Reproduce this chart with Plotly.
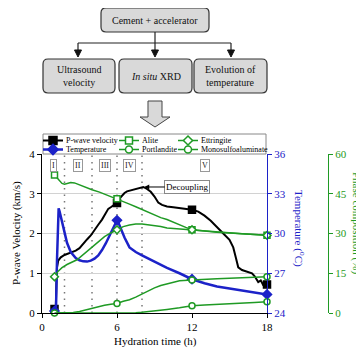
import plotly.graph_objects as go

# ---------------- data ----------------
vel_time = [1.0, 1.1, 1.15, 1.2, 1.3, 1.5, 1.8, 2.1, 2.4, 2.7, 3.0, 3.3, 3.6, 3.9, 4.2, 4.5, 4.8, 5.1, 5.3, 5.5,
            5.7, 5.85, 6.0, 6.2, 6.4, 6.6, 6.8, 7.0, 7.3, 7.6, 7.9, 8.1, 8.4, 8.7, 9.0, 9.3, 9.6, 10.0, 10.5, 11.0,
            11.5, 12.0, 12.5, 13.0, 13.5, 14.0, 14.5, 15.0, 15.3, 15.5, 15.7, 16.0, 16.5, 16.8, 17.0, 17.3, 17.5,
            17.7, 17.85, 18.0]
vel_kms = [0.10, 0.10, 0.70, 1.15, 1.32, 1.40, 1.46, 1.49, 1.53, 1.57, 1.63, 1.75, 1.85, 1.95, 2.10, 2.22, 2.35,
           2.50, 2.62, 2.66, 2.70, 2.72, 2.77, 2.88, 2.96, 3.02, 3.06, 3.08, 3.11, 3.12, 3.15, 3.17, 3.12, 3.05,
           2.93, 2.78, 2.72, 2.68, 2.66, 2.64, 2.62, 2.60, 2.55, 2.45, 2.32, 2.17, 2.00, 1.84, 1.65, 1.40, 1.15,
           1.08, 1.03, 1.00, 0.93, 0.78, 0.82, 0.70, 0.68, 0.72]

temp_time = [1.0, 1.12, 1.2, 1.27, 1.33, 1.4, 1.5, 1.7, 2.0, 2.3, 2.7, 3.0, 3.3, 3.6, 3.9, 4.2, 4.5, 4.8, 5.1,
             5.4, 5.7, 5.9, 6.0, 6.1, 6.3, 6.6, 7.0, 7.5, 8.0, 8.5, 9.0, 9.5, 10.0, 11.0, 12.0, 13.0, 14.0, 15.0,
             16.0, 17.0, 18.0]
temp_c = [24.15, 24.3, 28.0, 31.0, 31.9, 31.7, 31.2, 30.5, 29.3, 28.6, 28.15, 27.98, 27.9, 27.88, 27.95, 28.1,
          28.35, 28.75, 29.25, 29.85, 30.45, 30.85, 31.0, 30.85, 30.35, 29.7, 28.95, 28.6, 28.35, 28.1, 27.9,
          27.65, 27.4, 27.0, 26.55, 26.25, 26.0, 25.85, 25.7, 25.55, 25.4]

alite_time = [1.0, 1.2, 1.4, 1.6, 1.8, 2.0, 2.3, 2.6, 2.9, 3.4, 4.0, 4.6, 5.0, 5.5, 6.0, 6.5, 7.0, 7.5, 8.0, 8.5,
              9.0, 9.5, 10.0, 10.5, 11.0, 11.5, 12.0, 13.0, 14.0, 15.0, 16.0, 17.0, 18.0]
alite_pct = [52.1, 51.0, 49.7, 48.9, 48.6, 48.8, 49.2, 49.1, 48.5, 47.4, 46.5, 45.6, 44.9, 44.0, 43.1, 42.0,
             41.1, 40.1, 39.0, 38.0, 37.1, 36.0, 35.3, 34.2, 33.3, 32.3, 31.4, 30.9, 30.5, 30.2, 29.9, 29.6, 29.3]

port_time = [1.0, 2.0, 2.5, 3.0, 3.5, 4.0, 4.5, 5.0, 5.5, 6.0, 6.5, 7.0, 7.5, 8.0, 8.5, 9.0, 9.5, 10.0, 10.5,
             11.0, 12.0, 13.0, 14.0, 15.0, 16.0, 17.0, 18.0]
port_pct = [0.0, 0.0, 0.2, 0.6, 1.2, 1.8, 2.3, 2.9, 3.3, 3.6, 4.4, 5.0, 6.0, 7.2, 8.4, 9.5, 10.4, 11.1, 11.7,
            12.2, 12.5, 12.8, 12.9, 13.1, 13.2, 13.5, 13.7]

ettr_time = [1.0, 1.3, 1.6, 2.0, 2.8, 3.5, 4.0, 4.5, 5.0, 5.5, 6.0, 6.5, 7.0, 7.5, 8.0, 8.5, 9.0, 9.5, 10.0,
             11.0, 12.0, 13.0, 14.0, 15.0, 16.0, 17.0, 18.0]
ettr_pct = [13.7, 15.8, 17.1, 18.3, 20.1, 22.8, 24.9, 26.7, 28.8, 30.2, 31.4, 32.6, 33.2, 33.6, 33.6, 33.3,
            33.0, 32.6, 32.1, 31.7, 31.4, 30.9, 30.5, 30.2, 29.9, 29.6, 29.3]

mono_time = [1.0, 7.0, 7.5, 8.0, 9.0, 10.0, 11.0, 12.0, 13.0, 14.0, 15.0, 16.0, 17.0, 18.0]
mono_pct = [0.0, 0.0, 0.1, 0.3, 0.75, 1.35, 1.95, 2.7, 3.0, 3.3, 3.5, 3.75, 4.0, 4.2]

marker_times = [1, 6, 12, 18]
mono_marker_times = [12, 18]
stage_bounds = [0, 1.8, 4, 6, 8, 18]
stage_labels = ["I", "II", "III", "IV", "V"]
x_ticks = [0, 6, 12, 18]
flow_top = "Cement + accelerator"
flow_boxes = ["Ultrasound<br>velocity", "<i>In situ</i> XRD", "Evolution of<br>temperature"]
decoupling_label = "Decoupling"

# ---------------- styling / geometry ----------------
FONT = "Liberation Serif"
BLACK = "#000000"
BLUE = "#1c22c8"
GREEN = "#1f9a24"
W, H = 364, 348
OFF = 8                      # page body margin: the figure is drawn 8px right/down in the window
# plot area in window pixels: x 42..267, y 154..313
L, T = 42 - OFF, 154 - OFF
B = H - (313 - OFF)
R = 12
PW, PH = W - L - R, H - T - B


def px(x):
    """window x pixel -> paper x"""
    return (x - OFF - L) / PW


def py(y):
    """window y pixel -> paper y"""
    return (H - B - (y - OFF)) / PH


def P(x, y):
    return f"{px(x):.5f},{py(y):.5f}"


series = [
    dict(name="P-wave velocity", t=vel_time, v=vel_kms, ax="y", color=BLACK, lw=2, sym="square",
         fill=BLACK, size=7, keys=marker_times),
    dict(name="Temperature", t=temp_time, v=temp_c, ax="y2", color=BLUE, lw=2.5, sym="diamond",
         fill=BLUE, size=7, keys=marker_times),
    dict(name="Alite", t=alite_time, v=alite_pct, ax="y3", color=GREEN, lw=1.5, sym="square",
         fill="white", size=6, keys=marker_times),
    dict(name="Portlandite", t=port_time, v=port_pct, ax="y3", color=GREEN, lw=1.5, sym="circle",
         fill="white", size=6, keys=marker_times),
    dict(name="Ettringite", t=ettr_time, v=ettr_pct, ax="y3", color=GREEN, lw=1.5, sym="diamond",
         fill="white", size=6, keys=marker_times),
    dict(name="Monosulfoaluminate", t=mono_time, v=mono_pct, ax="y3", color=GREEN, lw=1.5, sym="circle",
         fill="white", size=6, keys=mono_marker_times),
]

fig = go.Figure()
for s in series:
    fig.add_trace(go.Scatter(x=s["t"], y=s["v"], yaxis=s["ax"], mode="lines", name=s["name"],
                             legendgroup=s["name"], line=dict(color=s["color"], width=s["lw"]),
                             showlegend=False))
    kx = [t for t in s["t"] if t in s["keys"]]
    ky = [v for t, v in zip(s["t"], s["v"]) if t in s["keys"]]
    fig.add_trace(go.Scatter(x=kx, y=ky, yaxis=s["ax"], mode="markers", name=s["name"],
                             legendgroup=s["name"], showlegend=False, cliponaxis=False,
                             marker=dict(symbol=s["sym"], size=s["size"], color=s["fill"],
                                         line=dict(color=s["color"], width=1.5))))

shapes = []
annotations = []


def note(x, y, text, size=10, color="#111", **kw):
    d = dict(xref="paper", yref="paper", x=px(x), y=py(y), text=text, showarrow=False,
             xanchor="center", yanchor="middle", font=dict(family=FONT, size=size, color=color))
    d.update(kw)
    annotations.append(d)


# stage boundaries (dotted)
for b in stage_bounds[1:-1]:
    shapes.append(dict(type="line", xref="x", yref="paper", x0=b, x1=b, y0=0, y1=1,
                       line=dict(color="#777777", width=1.5, dash="1.5px,5px"), layer="below"))
# stage labels
for i, lab in enumerate(stage_labels):
    mid = (stage_bounds[i] + stage_bounds[i + 1]) / 2
    annotations.append(dict(xref="x", yref="paper", x=mid, y=py(165), text=lab, showarrow=False,
                            xanchor="center", yanchor="middle",
                            font=dict(family=FONT, size=8, color="#222"), bgcolor="white",
                            bordercolor="#999999", borderwidth=1, borderpad=1))

# decoupling callout
peak_i = vel_kms.index(max(vel_kms))
annotations.append(dict(xref="x", yref="y", x=vel_time[peak_i], y=vel_kms[peak_i], text=decoupling_label,
                        showarrow=True, ax=44, ay=0, arrowhead=2, arrowsize=1, arrowwidth=1,
                        arrowcolor="black", standoff=1, font=dict(family=FONT, size=9, color="black"),
                        bgcolor="white", bordercolor="#888888", borderwidth=1, borderpad=1))

# custom legend (box + samples built from the same series style table)
shapes.append(dict(type="rect", xref="paper", yref="paper", x0=px(43), x1=px(266), y0=py(154), y1=py(134),
                   line=dict(color="#888888", width=1), fillcolor="white", layer="above"))
leg_cols = [43, 119, 178]
leg_rows = [140.5, 149.5]
leg_order = [[0, 1], [2, 3], [4, 5]]
for ci, col in enumerate(leg_order):
    for ri, si in enumerate(col):
        s = series[si]
        x0 = leg_cols[ci]
        y = leg_rows[ri]
        cx = x0 + 10
        shapes.append(dict(type="line", xref="paper", yref="paper", x0=px(x0), x1=px(x0 + 20),
                           y0=py(y), y1=py(y), line=dict(color=s["color"], width=s["lw"]), layer="above"))
        h = s["size"] / 2 + 0.5
        if s["sym"] == "square":
            shapes.append(dict(type="rect", xref="paper", yref="paper", x0=px(cx - h), x1=px(cx + h),
                               y0=py(y + h), y1=py(y - h), fillcolor=s["fill"],
                               line=dict(color=s["color"], width=1.5), layer="above"))
        elif s["sym"] == "circle":
            shapes.append(dict(type="circle", xref="paper", yref="paper", x0=px(cx - h), x1=px(cx + h),
                               y0=py(y + h), y1=py(y - h), fillcolor=s["fill"],
                               line=dict(color=s["color"], width=1.5), layer="above"))
        else:
            d = h * 1.3
            path = f"M{P(cx, y - d)} L{P(cx + d, y)} L{P(cx, y + d)} L{P(cx - d, y)} Z"
            shapes.append(dict(type="path", xref="paper", yref="paper", path=path, fillcolor=s["fill"],
                               line=dict(color=s["color"], width=1.5), layer="above"))
        note(x0 + 21, y, s["name"], size=8, color="black", xanchor="left")


# flowchart
def rrect(x0, y0, x1, y1, r):
    return (f"M{P(x0 + r, y0)} L{P(x1 - r, y0)} Q{P(x1, y0)} {P(x1, y0 + r)} L{P(x1, y1 - r)} "
            f"Q{P(x1, y1)} {P(x1 - r, y1)} L{P(x0 + r, y1)} Q{P(x0, y1)} {P(x0, y1 - r)} "
            f"L{P(x0, y0 + r)} Q{P(x0, y0)} {P(x0 + r, y0)} Z")


BOX_FILL = "#d9d9d9"
BOX_LINE = "#333333"
top_box = (101, 8, 209, 32)
row_boxes = [(43, 59, 115, 93), (119, 59, 192, 93), (194, 59, 267, 93)]
for bx in [top_box] + row_boxes:
    shapes.append(dict(type="path", xref="paper", yref="paper", path=rrect(*bx, 5),
                       fillcolor=BOX_FILL, line=dict(color=BOX_LINE, width=1.2), layer="below"))
note(155, 20, flow_top)
for bx, txt in zip(row_boxes, flow_boxes):
    note((bx[0] + bx[2]) / 2, 76, txt)
# connectors
conn = dict(color="#222222", width=1.2)
shapes.append(dict(type="line", xref="paper", yref="paper", x0=px(155), x1=px(155), y0=py(32), y1=py(43),
                   line=conn))
shapes.append(dict(type="line", xref="paper", yref="paper", x0=px(78), x1=px(231), y0=py(43), y1=py(43),
                   line=conn))
for ax_ in (78, 155, 231):
    shapes.append(dict(type="line", xref="paper", yref="paper", x0=px(ax_), x1=px(ax_), y0=py(43),
                       y1=py(51), line=conn))
    shapes.append(dict(type="path", xref="paper", yref="paper",
                       path=f"M{P(ax_ - 3.5, 50)} L{P(ax_ + 3.5, 50)} L{P(ax_, 57)} Z",
                       fillcolor="#111111", line=dict(color="#111111", width=1)))
# big hollow arrow
arrow_path = (f"M{P(148, 101)} L{P(162, 101)} L{P(162, 117)} L{P(170, 117)} L{P(155, 127)} "
              f"L{P(140, 117)} L{P(148, 117)} Z")
shapes.append(dict(type="path", xref="paper", yref="paper", path=arrow_path, fillcolor=BOX_FILL,
                   line=dict(color="#444444", width=1)))

# axis titles
note(16, 233, "P-wave Velocity (km/s)", size=11, color="black", textangle=-90)
note(155, 341, "Hydration time (h)", size=11, color="black")
note(300, 228, "Temperature (<sup>o</sup>C)", size=11, color=BLUE, textangle=90)
note(357, 223, "Phase composition (%)", size=11, color=GREEN, textangle=90)

tickfont = dict(family=FONT, size=11, color="black")
fig.update_layout(
    width=W, height=H, margin=dict(l=L, r=R, t=T, b=B, pad=0, autoexpand=False),
    paper_bgcolor="white", plot_bgcolor="white", showlegend=False,
    font=dict(family=FONT, size=11, color="black"),
    xaxis=dict(domain=[0, (267 - 42) / PW], range=[0, 18], tickvals=x_ticks, ticks="outside", ticklen=4,
               tickcolor="black", showline=True, linecolor="black", linewidth=1, showgrid=False,
               zeroline=False, tickfont=tickfont, automargin=False),
    yaxis=dict(range=[0, 4], dtick=1, ticks="outside", ticklen=4, tickcolor="black", showline=True,
               linecolor="black", linewidth=1, showgrid=True, gridcolor="#d2d2d2", gridwidth=1,
               zeroline=False, tickfont=tickfont, automargin=False),
    yaxis2=dict(overlaying="y", side="right", anchor="x", range=[24, 36], dtick=3, ticks="outside",
                ticklen=4, tickcolor=BLUE, showline=True, linecolor=BLUE, linewidth=1.2, showgrid=False,
                zeroline=False, tickfont=dict(family=FONT, size=11, color=BLUE), automargin=False),
    yaxis3=dict(overlaying="y", side="right", anchor="free", position=px(328), range=[0, 60], dtick=15,
                ticks="outside", ticklen=4, tickcolor=GREEN, showline=True, linecolor=GREEN, linewidth=1.2,
                showgrid=False, zeroline=False, tickfont=dict(family=FONT, size=11, color=GREEN),
                automargin=False),
    shapes=shapes,
    annotations=annotations,
)

fig.write_html("out.html")
